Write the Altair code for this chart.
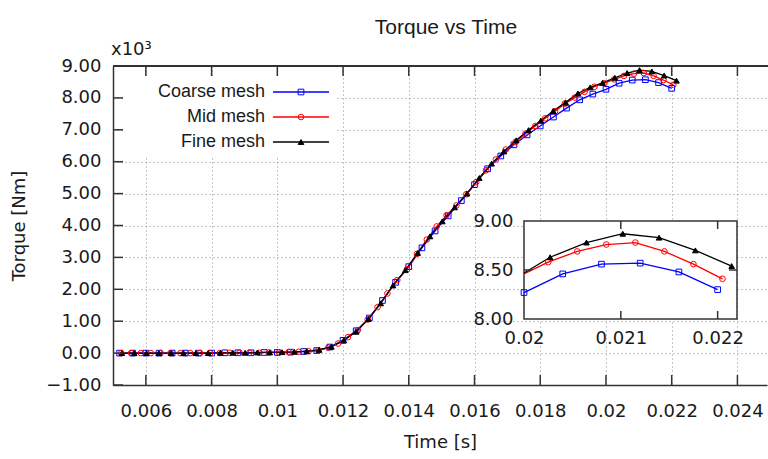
import altair as alt
import pandas as pd

# ---------------- data ----------------
names = ["Coarse mesh", "Mid mesh", "Fine mesh"]
colors = ["#0000ff", "#ff0000", "#000000"]
shapes = ["square", "circle", "triangle-up"]
fills = ["transparent", "transparent", "#000000"]

# values in units of 10^3 Nm
coarse_t = [0.0052, 0.0056, 0.0060, 0.0064, 0.0068, 0.0072, 0.0076, 0.0080, 0.0084, 0.0088,
            0.0092, 0.0096, 0.0100, 0.0104, 0.0108, 0.0112, 0.0116, 0.0120, 0.0124, 0.0128,
            0.0132, 0.0136, 0.0140, 0.0144, 0.0148, 0.0152, 0.0156, 0.0160, 0.0164, 0.0168,
            0.0172, 0.0176, 0.0180, 0.0184, 0.0188, 0.0192, 0.0196, 0.0200, 0.0204, 0.0208,
            0.0212, 0.0216, 0.0220]
coarse_v = [0, 0, 0, 0, 0, 0, 0, 0, 0.01, 0.01,
            0.01, 0.02, 0.02, 0.03, 0.05, 0.08, 0.19, 0.40, 0.70, 1.10,
            1.65, 2.22, 2.71, 3.30, 3.83, 4.30, 4.78, 5.28, 5.78, 6.18,
            6.53, 6.84, 7.12, 7.40, 7.68, 7.94, 8.12, 8.27, 8.46, 8.56,
            8.57, 8.48, 8.30]

mid_t = [0.00525, 0.00555, 0.00585, 0.00615, 0.00645, 0.00675, 0.00705, 0.00735, 0.00765, 0.00795,
         0.00825, 0.00855, 0.00885, 0.00915, 0.00945, 0.00975, 0.01005, 0.01035, 0.01065, 0.01095,
         0.01125, 0.01155, 0.01185, 0.01215, 0.01245, 0.01275, 0.01305, 0.01335, 0.01365, 0.01395,
         0.01425, 0.01455, 0.01485, 0.01515, 0.01545, 0.01575, 0.01605, 0.01635, 0.01665, 0.01695,
         0.01725, 0.01755, 0.01785, 0.01815, 0.01845, 0.01875, 0.01905, 0.01935, 0.01965, 0.01995,
         0.02025, 0.02055, 0.02085, 0.02115, 0.02145, 0.02175, 0.02205]
mid_v = [0, 0, 0, 0, 0, 0, 0, 0, 0, 0,
         0, 0.01, 0.01, 0.01, 0.01, 0.02, 0.02, 0.03, 0.04, 0.06,
         0.09, 0.17, 0.30, 0.50, 0.72, 1.05, 1.44, 1.87, 2.29, 2.63,
         3.11, 3.56, 3.97, 4.32, 4.63, 4.98, 5.36, 5.73, 6.07, 6.38,
         6.62, 6.88, 7.12, 7.36, 7.58, 7.82, 8.01, 8.19, 8.35, 8.46,
         8.58, 8.69, 8.76, 8.78, 8.69, 8.56, 8.41]

fine_t = [0.005270, 0.005645, 0.006020, 0.006395, 0.006770, 0.007145, 0.007520, 0.007895, 0.008270, 0.008645,
          0.009020, 0.009395, 0.009770, 0.010145, 0.010520, 0.010895, 0.011270, 0.011645, 0.012020, 0.012395,
          0.012770, 0.013145, 0.013520, 0.013895, 0.014270, 0.014645, 0.015020, 0.015395, 0.015770, 0.016145,
          0.016520, 0.016895, 0.017270, 0.017645, 0.018020, 0.018395, 0.018770, 0.019145, 0.019520, 0.019895,
          0.020270, 0.020645, 0.021020, 0.021395, 0.021770, 0.022145]
fine_v = [0, 0, 0, 0, 0, 0, 0, 0, 0.01, 0.01,
          0.01, 0.02, 0.02, 0.03, 0.04, 0.06, 0.10, 0.20, 0.40, 0.67,
          1.07, 1.56, 2.12, 2.60, 3.14, 3.66, 4.13, 4.57, 5.00, 5.49,
          5.94, 6.32, 6.67, 6.99, 7.29, 7.59, 7.86, 8.14, 8.33, 8.47,
          8.63, 8.78, 8.87, 8.83, 8.70, 8.54]

x_ticks = [0.006, 0.008, 0.010, 0.012, 0.014, 0.016, 0.018, 0.020, 0.022, 0.024]
y_ticks = [-1, 0, 1, 2, 3, 4, 5, 6, 7, 8, 9]
inset_x_ticks = [0.020, 0.021, 0.022]
inset_y_ticks = [8.0, 8.5, 9.0]
inset_inner_x = [0.021, 0.022]
inset_inner_y = [8.5]

title_text = "Torque vs Time"
multiplier_text = "x10³"

rows = []
for name, ts, vs in zip(names, [coarse_t, mid_t, fine_t], [coarse_v, mid_v, fine_v]):
    for t, v in zip(ts, vs):
        rows.append({"series": name, "t": t, "v": v})
df = pd.DataFrame(rows)

# ---------------- layout ----------------
W, H = 654, 319
FRAME = "#333333"
TXT = "#1a1a1a"
TICKFONT = "DejaVu Sans"
TICKSIZE = 18

xs = alt.Scale(domain=[0.005, 0.0249], nice=False, zero=False)
ys = alt.Scale(domain=[-1, 9], nice=False, zero=False)

x_axis = alt.Axis(values=x_ticks, format="~g", title="Time [s]", grid=True,
                  gridColor="#8c8c8c", gridDash=[1, 3], gridWidth=1,
                  ticks=False, tickSize=0, domain=True, domainColor=FRAME, domainWidth=1.5,
                  labelPadding=17, labelFont=TICKFONT, labelFontSize=TICKSIZE, labelColor=TXT,
                  labelFlush=False, titleFont=TICKFONT, titleFontSize=18,
                  titleFontWeight="normal", titleColor=TXT, titlePadding=13)
y_axis = alt.Axis(values=y_ticks, format=".2f", title="Torque [Nm]", grid=True,
                  gridColor="#8c8c8c", gridDash=[1, 3], gridWidth=1,
                  ticks=False, tickSize=0, domain=True, domainColor=FRAME, domainWidth=1.5,
                  labelPadding=12, labelFont=TICKFONT, labelFontSize=TICKSIZE, labelColor=TXT,
                  labelFlush=False, titleFont=TICKFONT, titleFontSize=18,
                  titleFontWeight="normal", titleColor=TXT, titlePadding=17)

color = alt.Color("series:N", scale=alt.Scale(domain=names, range=colors), legend=None)
stroke = alt.Stroke("series:N", scale=alt.Scale(domain=names, range=colors), legend=None)
fill = alt.Fill("series:N", scale=alt.Scale(domain=names, range=fills), legend=None)
shape = alt.Shape("series:N", scale=alt.Scale(domain=names, range=shapes), legend=None)

base = alt.Chart(df)

main_lines = base.mark_line(strokeWidth=1.3).encode(
    x=alt.X("t:Q", scale=xs, axis=x_axis), y=alt.Y("v:Q", scale=ys, axis=y_axis), color=color)
main_points = base.mark_point(size=32, strokeWidth=1, opacity=1).encode(
    x=alt.X("t:Q", scale=xs, axis=x_axis), y=alt.Y("v:Q", scale=ys, axis=y_axis),
    stroke=stroke, fill=fill, shape=shape)

xt = alt.Chart(pd.DataFrame({"t": x_ticks}))
yt = alt.Chart(pd.DataFrame({"v": y_ticks}))
ticks_bottom = xt.mark_rule(color=FRAME, strokeWidth=1.5).encode(
    x=alt.X("t:Q", scale=xs, axis=x_axis), y=alt.value(H), y2=alt.value(H - 10))
ticks_top = xt.mark_rule(color=FRAME, strokeWidth=1.5).encode(
    x=alt.X("t:Q", scale=xs, axis=x_axis), y=alt.value(0), y2=alt.value(10))
ticks_left = yt.mark_rule(color=FRAME, strokeWidth=1.5).encode(
    y=alt.Y("v:Q", scale=ys, axis=y_axis), x=alt.value(0), x2=alt.value(10))
top_frame = xt.mark_rule(color=FRAME, strokeWidth=1.5).encode(
    x=alt.value(0), x2=alt.value(W + 10), y=alt.value(0))

main = alt.layer(main_lines, main_points, ticks_bottom, ticks_top, ticks_left, top_frame)

# ---------------- inset ----------------
ixs = alt.Scale(domain=[0.02, 0.0222], range=[411, 624], nice=False, zero=False, clamp=True)
iys = alt.Scale(domain=[8, 9], range=[253, 155], nice=False, zero=False, clamp=True)
ix_axis = alt.Axis(values=inset_x_ticks, format="~g", title="", orient="bottom", offset=-66,
                   grid=False, domain=False, ticks=False, tickSize=0, labelPadding=10,
                   labelFont=TICKFONT, labelFontSize=TICKSIZE, labelColor=TXT, labelFlush=False)
iy_axis = alt.Axis(values=inset_y_ticks, format=".2f", title="", orient="left", offset=-411,
                   grid=False, domain=False, ticks=False, tickSize=0, labelPadding=11,
                   labelFont=TICKFONT, labelFontSize=TICKSIZE, labelColor=TXT, labelFlush=False)

inset_box = alt.Chart(pd.DataFrame({"t": [0.02], "t2": [0.0222], "v": [8.0], "v2": [9.0]})).mark_rect(
    fill="white", stroke=FRAME, strokeWidth=1.5).encode(
    x=alt.X("t:Q", scale=ixs, axis=ix_axis), x2="t2:Q",
    y=alt.Y("v:Q", scale=iys, axis=iy_axis), y2="v2:Q")
inset_lines = base.transform_filter(alt.datum.t >= 0.0198).mark_line(strokeWidth=1.3).encode(
    x=alt.X("t:Q", scale=ixs, axis=ix_axis), y=alt.Y("v:Q", scale=iys, axis=iy_axis), color=color)
inset_points = base.transform_filter(alt.datum.t >= 0.01999).mark_point(
    size=32, strokeWidth=1, opacity=1).encode(
    x=alt.X("t:Q", scale=ixs, axis=ix_axis), y=alt.Y("v:Q", scale=iys, axis=iy_axis),
    stroke=stroke, fill=fill, shape=shape)
ixt = alt.Chart(pd.DataFrame({"t": inset_inner_x}))
iyt = alt.Chart(pd.DataFrame({"v": inset_inner_y}))
itick_b = ixt.mark_rule(color=FRAME, strokeWidth=1.5).encode(
    x=alt.X("t:Q", scale=ixs, axis=ix_axis), y=alt.value(253), y2=alt.value(245))
itick_t = ixt.mark_rule(color=FRAME, strokeWidth=1.5).encode(
    x=alt.X("t:Q", scale=ixs, axis=ix_axis), y=alt.value(155), y2=alt.value(163))
itick_l = iyt.mark_rule(color=FRAME, strokeWidth=1.5).encode(
    y=alt.Y("v:Q", scale=iys, axis=iy_axis), x=alt.value(411), x2=alt.value(419))
itick_r = iyt.mark_rule(color=FRAME, strokeWidth=1.5).encode(
    y=alt.Y("v:Q", scale=iys, axis=iy_axis), x=alt.value(616), x2=alt.value(624))

inset = alt.layer(inset_box, inset_lines, inset_points, itick_b, itick_t, itick_l, itick_r)

# ---------------- legend, title ----------------
leg = alt.Chart(pd.DataFrame({"series": names}))
ly = alt.Y("series:N", scale=alt.Scale(type="point", domain=names, range=[26, 76], padding=0), axis=None)
leg_box = leg.mark_rect(fill="white").encode(
    x=alt.value(11), x2=alt.value(224), y=alt.value(10), y2=alt.value(90))
leg_text = leg.mark_text(align="right", baseline="middle", font="Liberation Sans",
                         fontSize=18, color=TXT).encode(x=alt.value(152), y=ly, text="series:N")
leg_rule = leg.mark_rule(strokeWidth=1.3).encode(
    x=alt.value(160), x2=alt.value(216), y=ly, color=color)
leg_pts = leg.mark_point(size=32, strokeWidth=1, opacity=1).encode(
    x=alt.value(188), y=ly, stroke=stroke, fill=fill, shape=shape)
mult = alt.Chart(pd.DataFrame({"s": [multiplier_text]})).mark_text(
    align="left", baseline="alphabetic", font=TICKFONT, fontSize=18, color=TXT).encode(
    x=alt.value(-2), y=alt.value(-11), text="s:N")
title = alt.Chart(pd.DataFrame({"s": [title_text]})).mark_text(
    align="center", baseline="alphabetic", font="Liberation Sans", fontSize=21, color=TXT).encode(
    x=alt.value(W / 2 + 6), y=alt.value(-32), text="s:N")

legend = alt.layer(leg_box, leg_text, leg_rule, leg_pts, mult, title)

chart = alt.layer(main, inset, legend).resolve_scale(
    x="independent", y="independent"
).properties(
    width=W, height=H,
    padding={"left": 113, "top": 66, "right": 1, "bottom": 74},
    autosize=alt.AutoSizeParams(type="none"),
).configure_view(stroke="transparent")

chart.save("out.html", embed_options={"renderer": "svg", "actions": False})
